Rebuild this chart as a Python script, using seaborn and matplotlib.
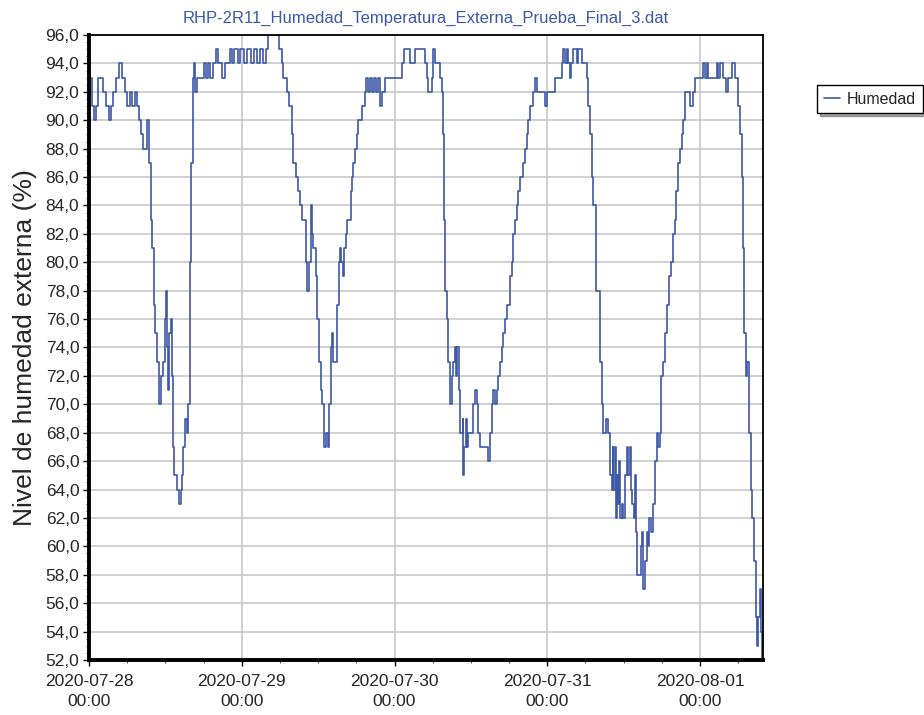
import pandas as pd
import numpy as np
import matplotlib
matplotlib.use("Agg")
import matplotlib.pyplot as plt
import matplotlib.dates as mdates
from matplotlib.ticker import MultipleLocator, FuncFormatter
import seaborn as sns

# hours since 2020-07-28 00:00 where the reading changes, and the reading (%)
horas = [
    0.0, 0.5, 0.8, 1.1, 1.4, 2.2, 2.7, 3.1, 3.5, 3.8, 4.2, 4.7, 5.2, 5.6, 6.0,
    6.4, 6.8, 7.2, 7.5, 7.9, 8.2, 8.5, 9.1, 9.4, 9.7, 9.95, 10.2, 10.45, 10.7,
    10.95, 11.3, 11.6, 11.95, 12.1, 12.25, 12.45, 12.65, 12.85, 13.0, 13.15,
    13.4, 13.75, 14.1, 14.4, 14.6, 14.8, 15.1, 15.35, 15.6, 15.85, 16.0, 16.3,
    16.5, 16.65, 17.0, 18.05, 18.4, 18.7, 19.0, 19.5, 19.95, 20.25, 20.9,
    21.35, 22.15, 22.45, 22.8, 23.4, 23.7,
    24.35, 24.8, 25.45, 25.9, 26.4, 26.85, 27.35, 27.8, 28.1, 29.85, 30.3,
    30.5, 31.05, 31.4, 31.85, 32.1, 32.6, 32.9, 33.15, 33.4, 34.1, 34.3, 34.5,
    34.85, 35.0, 35.25, 35.65, 35.85, 36.2, 36.4, 36.65, 36.9, 37.2, 37.5,
    37.75, 38.0, 38.2, 38.4, 39.0, 39.25, 39.45, 39.65, 39.85, 40.05, 40.4,
    40.55, 41.1, 41.25, 41.5, 41.8, 42.05, 42.3, 42.85, 43.35, 43.6, 43.9,
    44.15, 44.45, 44.8, 45.1, 45.45, 45.7, 46.0, 46.5, 49.1, 49.5, 50.45,
    51.2, 52.8, 53.05, 53.3, 53.85, 54.1, 54.35, 55.15, 55.4, 55.65, 55.75,
    55.95, 56.2, 56.45, 56.7, 57.05, 57.25, 57.45, 57.65, 57.85, 58.1, 58.3,
    58.7, 58.8, 58.95, 59.2, 59.35, 59.6, 60.4, 60.65, 60.9, 61.15, 61.45,
    62.75, 63.0, 63.25, 63.5, 63.8, 64.05, 64.3, 64.55, 64.85, 65.1, 65.35,
    65.6, 66.15, 66.4, 66.65, 66.9, 67.2, 67.45, 67.7, 68.2, 68.5, 68.75,
    69.0, 69.3, 69.8, 70.05, 70.35, 71.65, 71.95, 73.2, 74.25, 74.5, 74.8,
    75.05, 75.3, 75.55, 75.8, 76.1, 76.6, 76.9, 77.4, 78.2, 78.45, 78.7,
    79.0, 79.25, 79.65, 80.3, 80.55, 80.8, 81.3, 81.6, 81.85, 82.1, 82.3,
    82.4, 82.6, 82.8, 83.0, 83.15, 83.3, 83.5, 83.7, 83.95, 84.2, 84.45,
    84.7, 85.0, 85.15, 85.35, 85.6, 85.8, 85.95, 86.15, 86.7, 86.9, 87.1,
    87.35, 87.6, 87.85, 88.0, 88.3, 88.55, 88.65, 88.9, 89.2, 89.45, 89.7,
    89.85, 90.2, 90.5, 90.8, 91.1, 91.45, 91.8, 92.05, 92.3, 92.6, 92.85,
    93.1, 93.35, 93.6, 94.4, 94.95, 95.2, 96.5, 96.8, 97.05, 97.3, 98.6,
    98.85, 99.1, 99.65, 100.15, 100.4, 100.95, 101.5, 102.0, 102.3, 102.55,
    102.8, 102.95, 103.2, 103.4, 103.75, 104.0, 104.2, 104.5, 104.75,
    104.95, 105.15, 105.45, 105.55, 105.75,
]
humedad = [
    93, 91, 90, 91, 93, 92, 91, 90, 91, 92, 93, 94, 93, 92, 91,
    92, 91, 92, 91, 90, 89, 88, 90, 87, 83, 81, 77, 75, 73,
    70, 72, 73, 76, 78, 74, 71, 75, 76, 72, 67,
    65, 64, 63, 64, 65, 67, 69, 68, 70, 80, 87, 93,
    94, 92, 93, 94, 93, 94, 93, 94, 95, 94, 93,
    94, 95, 94, 95, 94, 95,
    94, 95, 94, 95, 94, 95, 94, 95, 96, 95, 94,
    93, 92, 91, 89, 87, 86, 85, 84, 83, 80, 78, 80,
    84, 82, 81, 79, 76, 73, 71, 70, 67, 68, 67,
    70, 74, 75, 73, 77, 80, 81, 80, 79, 81, 82,
    83, 85, 86, 87, 88, 89, 90, 91, 92, 93, 92,
    93, 92, 93, 92, 93, 91, 92, 93, 94, 95, 94,
    95, 94, 93, 92, 93, 95, 94, 93, 92, 89, 83,
    78, 76, 73, 70, 72, 73, 74, 72, 74, 71, 68,
    69, 65, 67, 69, 67, 68, 70, 71, 70, 68, 67,
    66, 68, 70, 71, 70, 71, 72, 73, 74, 75, 76,
    77, 79, 80, 82, 83, 84, 85, 86, 87, 88, 89,
    90, 91, 92, 93, 92, 91, 92, 93, 94, 95, 94,
    95, 94, 93, 94, 95, 94, 95, 94, 93, 91, 89,
    86, 84, 78, 73, 70, 68, 69, 68, 65, 64, 67,
    64, 67, 62, 65, 63, 66, 62, 63, 62, 65, 67,
    65, 67, 64, 63, 62, 65, 61, 58, 60, 61, 57,
    59, 61, 60, 62, 61, 62, 63, 66, 68, 67, 68,
    72, 73, 75, 77, 79, 80, 82, 83, 85, 87, 88,
    89, 90, 92, 91, 92, 93, 94, 93, 94, 93, 94,
    93, 94, 93, 92, 93, 94, 93, 91, 89, 86,
    81, 75, 72, 73, 68, 64, 62, 59, 55,
    53, 55, 57, 54, 52,
]

inicio = pd.Timestamp("2020-07-28 00:00")
df = pd.DataFrame({
    "fecha": inicio + pd.to_timedelta(horas, unit="h"),
    "Humedad": humedad,
})

sns.set_style("white")
plt.rcParams["font.family"] = ["Liberation Sans", "DejaVu Sans"]

fig = plt.figure(figsize=(9.24, 7.15), dpi=100)
ax = fig.add_axes([0.0963, 0.077, 0.7295, 0.874])

sns.lineplot(data=df, x="fecha", y="Humedad", ax=ax, estimator=None,
             drawstyle="steps-post", color="#3d58a8", linewidth=1.2,
             label="Humedad")

ax.set_xlim(inicio, inicio + pd.Timedelta(hours=105.9))
ax.set_ylim(52, 96)

ax.yaxis.set_major_locator(MultipleLocator(2))
ax.yaxis.set_minor_locator(MultipleLocator(0.5))
ax.yaxis.set_major_formatter(FuncFormatter(lambda v, p: f"{v:.1f}".replace(".", ",")))
ax.xaxis.set_major_locator(mdates.DayLocator())
ax.xaxis.set_minor_locator(mdates.HourLocator(byhour=[6, 12, 18]))
ax.xaxis.set_major_formatter(mdates.DateFormatter("%Y-%m-%d\n%H:%M"))

ax.grid(True, which="major", color="#c8c8c8", linewidth=1.2)
ax.tick_params(axis="both", which="major", direction="out", length=4,
               width=1, labelsize=12.5, color="black")
ax.tick_params(axis="y", which="major", pad=3)
ax.tick_params(axis="x", which="major", pad=6)
ax.tick_params(axis="both", which="minor", direction="out", length=2,
               width=0.8, color="#555555")
ax.tick_params(axis="both", which="both", left=True, bottom=True)
for lab in ax.get_xticklabels():
    lab.set_linespacing(1.45)

for lado in ["top", "right"]:
    ax.spines[lado].set_color("black")
    ax.spines[lado].set_linewidth(1.3)
for lado in ["left", "bottom"]:
    ax.spines[lado].set_color("black")
    ax.spines[lado].set_linewidth(2.8)

ax.set_xlabel("")
ax.set_ylabel("Nivel de humedad externa (%)", fontsize=19, labelpad=6)
ax.set_title("RHP-2R11_Humedad_Temperatura_Externa_Prueba_Final_3.dat",
             fontsize=12, color="#3d58a8", pad=9)

leg = ax.legend(loc="upper left", bbox_to_anchor=(1.080, 0.92), borderaxespad=0,
                fancybox=False, shadow=True, framealpha=1, edgecolor="black",
                fontsize=11.5, handlelength=1.0, handletextpad=0.45,
                borderpad=0.42)
leg.get_frame().set_linewidth(1.0)

fig.savefig("out.png", dpi=100)
